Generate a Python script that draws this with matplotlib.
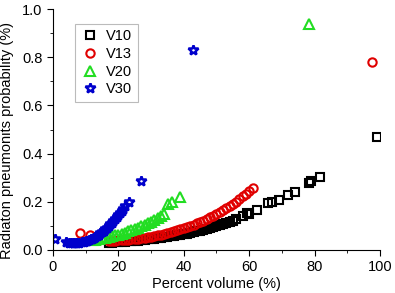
import matplotlib.pyplot as plt
from matplotlib.ticker import MultipleLocator

plt.rcParams['font.family'] = ['Liberation Sans', 'DejaVu Sans']

v10_x = [17, 18, 19, 20, 21, 22, 23, 24, 25, 26, 27, 28, 29, 30, 31, 32, 33, 34, 35,
         36, 37, 38, 39, 40, 41, 42, 43, 44, 45, 46, 47, 48, 49, 50, 51, 52, 53, 54,
         55, 56, 58, 59.3, 60, 62.4, 65.8, 67, 69, 72, 74, 78.3, 79, 81.7, 99.1]
v10_y = [0.030, 0.030, 0.031, 0.032, 0.033, 0.034, 0.035, 0.036, 0.037, 0.039, 0.040,
         0.042, 0.044, 0.045, 0.047, 0.049, 0.051, 0.053, 0.055, 0.057, 0.059, 0.061,
         0.063, 0.066, 0.068, 0.071, 0.074, 0.077, 0.080, 0.083, 0.086, 0.090, 0.094,
         0.098, 0.102, 0.106, 0.111, 0.116, 0.121, 0.127, 0.140, 0.153, 0.150, 0.166,
         0.195, 0.200, 0.207, 0.230, 0.240, 0.278, 0.285, 0.303, 0.469]

v13_x = [8.3, 11.3, 17, 18, 19, 20, 21, 22, 23, 24, 25, 26, 27, 28, 29, 30, 31, 32, 33,
         34, 35, 36, 37, 38, 39, 40, 41, 42, 43, 44, 45, 46, 47, 48, 49, 50, 51, 52, 53,
         54, 55, 56, 57, 58, 59, 60, 61.2, 97.6]
v13_y = [0.070, 0.062, 0.035, 0.037, 0.038, 0.040, 0.041, 0.042, 0.043, 0.044, 0.045,
         0.047, 0.049, 0.050, 0.052, 0.055, 0.057, 0.060, 0.063, 0.066, 0.070, 0.073,
         0.077, 0.081, 0.085, 0.090, 0.095, 0.100, 0.105, 0.110, 0.116, 0.122, 0.128,
         0.135, 0.142, 0.150, 0.158, 0.166, 0.174, 0.183, 0.192, 0.201, 0.211, 0.222,
         0.233, 0.245, 0.257, 0.780]

v20_x = [12, 13, 14, 15, 16, 17, 18, 19, 20, 21, 22, 23, 24, 25, 26, 27, 28, 29, 30,
         31, 32, 33, 34, 35.2, 36.3, 38.8, 78.3]
v20_y = [0.040, 0.042, 0.045, 0.048, 0.051, 0.054, 0.057, 0.060, 0.064, 0.068, 0.072,
         0.077, 0.082, 0.087, 0.092, 0.098, 0.104, 0.110, 0.117, 0.124, 0.131, 0.139,
         0.148, 0.190, 0.200, 0.220, 0.940]

v30_x = [0.6, 4, 5, 5.5, 6, 6.5, 7, 7.5, 8, 9, 9.5, 10, 10.5, 11, 11.5, 12, 12.5, 13,
         13.5, 14, 14.5, 15, 15.5, 16, 16.5, 17, 17.5, 18, 18.5, 19, 19.5, 20, 20.5, 21,
         21.5, 22, 23.2, 26.9, 42.8]
v30_y = [0.045, 0.032, 0.030, 0.030, 0.030, 0.028, 0.028, 0.030, 0.030, 0.032, 0.034,
         0.036, 0.038, 0.041, 0.044, 0.047, 0.051, 0.055, 0.059, 0.064, 0.069, 0.074,
         0.080, 0.086, 0.092, 0.099, 0.106, 0.113, 0.121, 0.129, 0.137, 0.145, 0.154,
         0.163, 0.172, 0.182, 0.200, 0.286, 0.830]

fig = plt.figure(figsize=(3.95, 2.93), dpi=100)
ax = fig.add_axes([0.134, 0.147, 0.828, 0.822])

kw = dict(linestyle='none', markerfacecolor='none', markeredgewidth=1.5)
ax.plot(v10_x, v10_y, marker='s', color='black', markersize=5.5, label='V10', **kw)
ax.plot(v13_x, v13_y, marker='o', color='#e00000', markersize=6, label='V13', **kw)
ax.plot(v20_x, v20_y, marker='^', color='#22dd22', markersize=7, label='V20', **kw)
ax.plot(v30_x, v30_y, marker='*', color='#0000cc', markersize=7.5, label='V30',
        linestyle='none', markerfacecolor='none', markeredgewidth=1.8)

ax.set_xlim(0, 100)
ax.set_ylim(0, 1.0)
ax.xaxis.set_major_locator(MultipleLocator(20))
ax.xaxis.set_minor_locator(MultipleLocator(10))
ax.yaxis.set_major_locator(MultipleLocator(0.2))
ax.yaxis.set_minor_locator(MultipleLocator(0.1))
ax.yaxis.set_major_formatter(plt.FormatStrFormatter('%.1f'))
ax.spines['top'].set_visible(False)
ax.spines['right'].set_visible(False)
ax.tick_params(which='major', length=4, labelsize=10.5)
ax.tick_params(which='minor', length=2.5)
ax.set_xlabel('Percent volume (%)', fontsize=10.5, labelpad=2)
ax.set_ylabel('Radiaton pneumonits probability (%)', fontsize=10.5)
ax.yaxis.set_label_coords(-0.12, 0.455)

leg = ax.legend(loc='upper left', bbox_to_anchor=(0.045, 0.97), fontsize=10.5,
                handletextpad=0.4, borderpad=0.4, labelspacing=0.25,
                handlelength=1.3, fancybox=False, framealpha=1)
leg.get_frame().set_edgecolor('#bbbbbb')
leg.get_frame().set_linewidth(0.8)

fig.savefig('out.png', dpi=100)
